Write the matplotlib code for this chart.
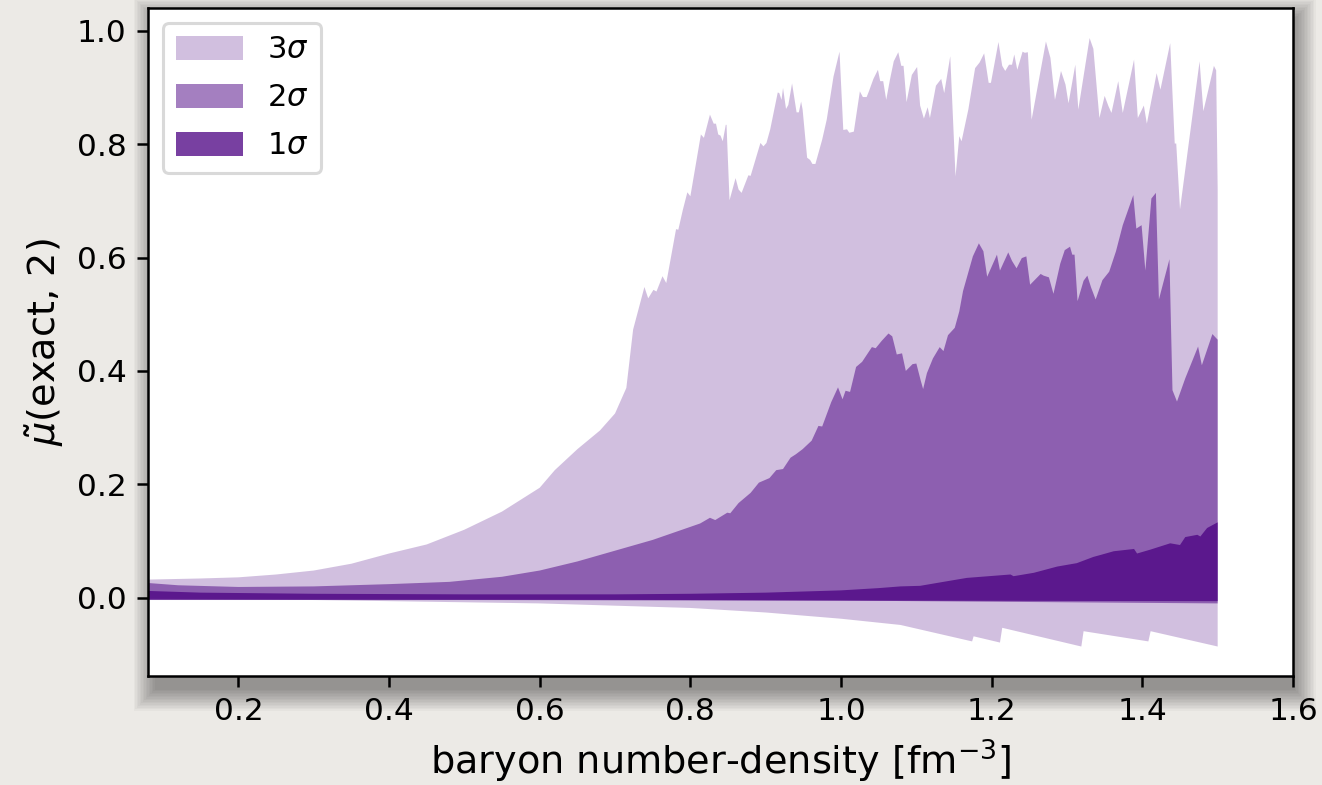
import numpy as np
import matplotlib
matplotlib.use("Agg")
import matplotlib.pyplot as plt
from matplotlib.patches import Rectangle

# 3 sigma band, upper edge
x3_up = [0.08, 0.15, 0.20, 0.25, 0.30, 0.35, 0.40, 0.45, 0.50, 0.55, 0.60, 0.62, 0.65, 0.68,
         0.70, 0.715, 0.724, 0.739, 0.744, 0.751, 0.755, 0.763, 0.768, 0.781, 0.784, 0.790,
         0.796, 0.800, 0.814, 0.818, 0.826, 0.831, 0.834, 0.837, 0.840, 0.843, 0.847, 0.848,
         0.852, 0.860, 0.864, 0.868, 0.877, 0.880, 0.893, 0.897, 0.901, 0.906, 0.916, 0.918,
         0.921, 0.923, 0.927, 0.930, 0.935, 0.941, 0.944, 0.947, 0.949, 0.955, 0.959, 0.962,
         0.966, 0.975, 0.981, 0.990, 0.998, 1.003, 1.008, 1.011, 1.017, 1.025, 1.029, 1.034,
         1.037, 1.043, 1.049, 1.052, 1.056, 1.060, 1.065, 1.070, 1.076, 1.080, 1.083, 1.087,
         1.094, 1.101, 1.105, 1.110, 1.115, 1.118, 1.126, 1.133, 1.137, 1.145, 1.152, 1.157,
         1.160, 1.169, 1.178, 1.184, 1.190, 1.196, 1.199, 1.209, 1.214, 1.218, 1.223, 1.227,
         1.230, 1.234, 1.241, 1.244, 1.248, 1.253, 1.272, 1.278, 1.284, 1.292, 1.298, 1.302,
         1.311, 1.315, 1.330, 1.335, 1.343, 1.350, 1.355, 1.359, 1.368, 1.374, 1.389, 1.394,
         1.402, 1.406, 1.419, 1.424, 1.437, 1.443, 1.445, 1.450, 1.476, 1.481, 1.495, 1.498,
         1.500]
y3_up = [0.032, 0.034, 0.036, 0.041, 0.048, 0.060, 0.078, 0.094, 0.120, 0.152, 0.194, 0.225,
         0.262, 0.295, 0.325, 0.370, 0.473, 0.548, 0.528, 0.543, 0.540, 0.567, 0.555, 0.650,
         0.649, 0.684, 0.715, 0.708, 0.817, 0.811, 0.852, 0.836, 0.836, 0.817, 0.815, 0.805,
         0.834, 0.834, 0.701, 0.740, 0.720, 0.714, 0.745, 0.744, 0.802, 0.796, 0.802, 0.826,
         0.891, 0.890, 0.878, 0.899, 0.862, 0.869, 0.907, 0.856, 0.856, 0.875, 0.861, 0.776,
         0.772, 0.765, 0.765, 0.808, 0.843, 0.919, 0.963, 0.825, 0.826, 0.820, 0.822, 0.893,
         0.883, 0.883, 0.893, 0.915, 0.931, 0.911, 0.911, 0.878, 0.914, 0.946, 0.962, 0.938,
         0.938, 0.874, 0.922, 0.936, 0.868, 0.845, 0.865, 0.846, 0.903, 0.915, 0.890, 0.955,
         0.743, 0.814, 0.805, 0.861, 0.934, 0.944, 0.960, 0.908, 0.908, 0.980, 0.938, 0.929,
         0.940, 0.940, 0.958, 0.931, 0.963, 0.961, 0.962, 0.843, 0.981, 0.952, 0.878, 0.929,
         0.905, 0.872, 0.940, 0.861, 0.987, 0.968, 0.846, 0.885, 0.867, 0.855, 0.911, 0.855,
         0.949, 0.846, 0.868, 0.836, 0.925, 0.896, 0.978, 0.801, 0.801, 0.685, 0.946, 0.858,
         0.938, 0.930, 0.720]

# 3 sigma band, lower edge
x3_lo = [0.08, 0.30, 0.50, 0.60, 0.70, 0.80, 0.90, 1.00, 1.079, 1.174, 1.176, 1.211, 1.214,
         1.319, 1.322, 1.408, 1.411, 1.500]
y3_lo = [-0.002, -0.004, -0.008, -0.010, -0.014, -0.018, -0.026, -0.037, -0.048, -0.077,
         -0.068, -0.079, -0.053, -0.086, -0.059, -0.077, -0.059, -0.086]

# 2 sigma band, upper edge
x2_up = [0.08, 0.12, 0.20, 0.30, 0.40, 0.48, 0.55, 0.60, 0.65, 0.70, 0.75, 0.80, 0.813,
         0.826, 0.833, 0.849, 0.853, 0.864, 0.880, 0.891, 0.905, 0.914, 0.923, 0.933, 0.940,
         0.949, 0.961, 0.970, 0.975, 0.987, 0.996, 1.002, 1.006, 1.012, 1.020, 1.028, 1.041,
         1.046, 1.054, 1.063, 1.068, 1.074, 1.081, 1.086, 1.095, 1.100, 1.106, 1.109, 1.114,
         1.122, 1.131, 1.136, 1.142, 1.151, 1.157, 1.162, 1.175, 1.183, 1.189, 1.194, 1.207,
         1.211, 1.222, 1.227, 1.233, 1.240, 1.246, 1.251, 1.265, 1.269, 1.276, 1.282, 1.291,
         1.297, 1.304, 1.307, 1.310, 1.314, 1.322, 1.327, 1.332, 1.338, 1.347, 1.356, 1.365,
         1.374, 1.388, 1.392, 1.399, 1.404, 1.412, 1.418, 1.422, 1.436, 1.440, 1.446, 1.457,
         1.474, 1.479, 1.493, 1.500]
y2_up = [0.026, 0.022, 0.019, 0.020, 0.024, 0.028, 0.037, 0.048, 0.064, 0.083, 0.102, 0.125,
         0.131, 0.141, 0.137, 0.150, 0.149, 0.167, 0.185, 0.203, 0.211, 0.225, 0.227, 0.247,
         0.253, 0.262, 0.277, 0.303, 0.302, 0.345, 0.371, 0.350, 0.365, 0.363, 0.407, 0.416,
         0.442, 0.440, 0.453, 0.466, 0.461, 0.429, 0.431, 0.400, 0.412, 0.413, 0.382, 0.368,
         0.396, 0.422, 0.442, 0.435, 0.463, 0.476, 0.505, 0.541, 0.602, 0.625, 0.611, 0.566,
         0.605, 0.577, 0.609, 0.594, 0.581, 0.599, 0.602, 0.552, 0.571, 0.568, 0.565, 0.536,
         0.589, 0.613, 0.619, 0.605, 0.605, 0.523, 0.559, 0.568, 0.547, 0.526, 0.560, 0.575,
         0.611, 0.657, 0.710, 0.651, 0.657, 0.577, 0.704, 0.714, 0.526, 0.597, 0.366, 0.346,
         0.387, 0.443, 0.410, 0.465, 0.455]

# 2 sigma band, lower edge
x2_lo = [0.08, 0.60, 1.00, 1.30, 1.50]
y2_lo = [-0.002, -0.003, -0.005, -0.008, -0.010]

# 1 sigma band, upper edge
x1_up = [0.08, 0.15, 0.30, 0.50, 0.70, 0.80, 0.90, 1.00, 1.05, 1.079, 1.105, 1.127, 1.167,
         1.225, 1.229, 1.256, 1.287, 1.313, 1.335, 1.346, 1.362, 1.389, 1.393, 1.411, 1.437,
         1.450, 1.457, 1.473, 1.477, 1.486, 1.500]
y1_up = [0.012, 0.009, 0.007, 0.006, 0.006, 0.007, 0.009, 0.013, 0.017, 0.020, 0.021, 0.026,
         0.035, 0.041, 0.038, 0.044, 0.055, 0.061, 0.072, 0.076, 0.082, 0.086, 0.078, 0.085,
         0.096, 0.093, 0.107, 0.111, 0.108, 0.123, 0.133]

# 1 sigma band, lower edge
x1_lo = [0.08, 0.50, 1.00, 1.50]
y1_lo = [-0.004, -0.004, -0.005, -0.006]

bands = [
    (x3_up, y3_up, x3_lo, y3_lo, 0.25, r'3$\sigma$'),
    (x2_up, y2_up, x2_lo, y2_lo, 0.5, r'2$\sigma$'),
    (x1_up, y1_up, x1_lo, y1_lo, 0.75, r'1$\sigma$'),
]

W, H = 1322, 785
fig = plt.figure(figsize=(W / 100, H / 100), dpi=100, facecolor='#eceae6')

# axes box in pixels
left, right, top, bottom = 148, 1293, 8, 676
ax = fig.add_axes([left / W, 1 - bottom / H, (right - left) / W, (bottom - top) / H])

# soft drop shadow behind the axes, thrown down and slightly right
for k in range(1, 16):
    pad = 1.5 * k
    fig.patches.append(Rectangle(((left - pad + 8) / W, (H - bottom - pad - 12) / H),
                                 (right - left + 2 * pad - 8) / W, (bottom - top + 2 * pad) / H,
                                 transform=fig.transFigure, facecolor='black',
                                 alpha=0.028, linewidth=0, zorder=-5))

for xu, yu, xl, yl, a, lab in bands:
    xs = np.r_[xu, xl[::-1]]
    ys = np.r_[yu, yl[::-1]]
    ax.fill(xs, ys, color='indigo', alpha=a, linewidth=0, label=lab)

ax.set_xlim(0.08, 1.6)
ax.set_ylim(-0.138, 1.04)
ax.set_xticks([0.2, 0.4, 0.6, 0.8, 1.0, 1.2, 1.4, 1.6])
ax.set_yticks([0.0, 0.2, 0.4, 0.6, 0.8, 1.0])

for s in ax.spines.values():
    s.set_linewidth(1.8)
ax.tick_params(labelsize=22.5, width=1.8, length=7.7, pad=7.7)

ax.set_xlabel(r'baryon number-density [fm$^{-3}$]', fontsize=27.5, labelpad=8)
ax.set_ylabel(r'$\tilde{\mu}$(exact, 2)', fontsize=27.5, labelpad=8)

leg = ax.legend(loc='upper left', fontsize=22, handlelength=2.2, handleheight=0.82,
                labelspacing=0.62, handletextpad=0.8, borderpad=0.4,
                borderaxespad=0.5)
leg.get_frame().set_linewidth(2.2)
leg.get_frame().set_edgecolor('#d0d0d0')

fig.savefig('out.png', dpi=100, facecolor=fig.get_facecolor())
